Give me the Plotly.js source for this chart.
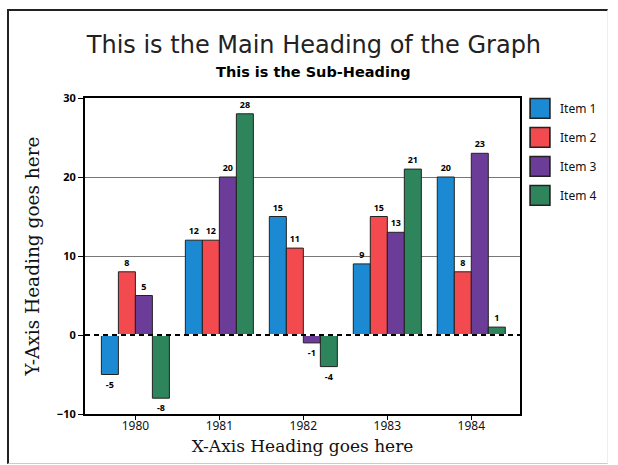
<!DOCTYPE html>
<html>
<head>
<meta charset="utf-8">
<script src="https://cdn.plot.ly/plotly-3.0.1.min.js"></script>
<style>
  html, body { margin: 0; padding: 0; background: #fff; }
  #frame { position: absolute; left: 7px; top: 9px; width: 598px; height: 452px;
           border-left: 2px solid #222; border-top: 2px solid #222;
           border-bottom: 1px solid #ccc; border-right: 1px solid #eee; pointer-events: none; }
  #chart { position: absolute; left: 0; top: 0; width: 618px; height: 465px; }
</style>
</head>
<body>
<div id="chart"></div>
<div id="frame"></div>
<script>
const categories = ["1980", "1981", "1982", "1983", "1984"];
const seriesNames = ["Item 1", "Item 2", "Item 3", "Item 4"];
const item1 = [-5, 12, 15, 9, 20];
const item2 = [8, 12, 11, 15, 8];
const item3 = [5, 20, -1, 13, 23];
const item4 = [-8, 28, -4, 21, 1];
const seriesValues = [item1, item2, item3, item4];
const colors = ["#1b8ad2", "#f24a4e", "#6b3d98", "#2e855c"];
const yTicks = [-10, 0, 10, 20, 30];
const mainTitle = "This is the Main Heading of the Graph";
const subTitle = "This is the Sub-Heading";

const traces = seriesValues.map((vals, i) => ({
  type: "bar",
  name: seriesNames[i],
  x: categories,
  y: vals,
  legendgroup: "g" + i,
  marker: { color: colors[i], line: { color: "#222", width: 1 } },
  text: vals.map(v => String(v)),
  texttemplate: "%{text}",
  textposition: "outside",
  textfont: { family: "Noto Sans", size: 9, color: "#000", weight: "bold" },
  cliponaxis: false,
  hoverinfo: "x+y+name"
}));

const layout = {
  width: 618, height: 465,
  paper_bgcolor: "rgba(0,0,0,0)",
  plot_bgcolor: "#fff",
  margin: { l: 85, r: 98, t: 98, b: 51 },
  barmode: "group",
  bargap: 0.19,
  bargroupgap: 0,
  showlegend: true,
  title: {
    text: mainTitle,
    font: { family: "DejaVu Sans", size: 24, color: "#222" },
    x: 0.508, xanchor: "center", xref: "container",
    y: 0.905, yanchor: "middle", yref: "container"
  },
  annotations: [
    { text: "<b>" + subTitle + "</b>", xref: "paper", yref: "paper",
      x: 0.525, y: 1.082, xanchor: "center", yanchor: "middle", showarrow: false,
      font: { family: "DejaVu Sans", size: 14.5, color: "#000" } }
  ],
  xaxis: {
    type: "category",
    range: [-0.6, 4.58],
    showline: true, linecolor: "#000", linewidth: 2, mirror: true,
    ticks: "outside", ticklen: 4, tickcolor: "#000",
    ticklabelstandoff: -4,
    tickfont: { family: "Noto Sans", size: 12, color: "#111" },
    showgrid: false,
    title: { text: "X-Axis Heading goes here", font: { family: "DejaVu Serif", size: 17, color: "#111" }, standoff: 7 }
  },
  yaxis: {
    range: [-10, 30],
    tickvals: yTicks,
    ticktext: yTicks.map(v => v < 0 ? "\u2212" + Math.abs(v) : String(v)),
    showline: true, linecolor: "#000", linewidth: 2, mirror: true,
    ticks: "outside", ticklen: 5, tickcolor: "#000",
    tickfont: { family: "Noto Sans", size: 11, color: "#000", weight: "bold" },
    showgrid: true, gridcolor: "#777", gridwidth: 1,
    zeroline: false,
    title: { text: "Y-Axis Heading goes here", font: { family: "DejaVu Serif", size: 18.5, color: "#111" }, standoff: 12 }
  },
  legend: {
    x: 1.0, xanchor: "left", y: 1.013, yanchor: "top",
    font: { family: "Noto Sans", size: 12, color: "#111" },
    tracegroupgap: 10,
    traceorder: "grouped",
    bgcolor: "rgba(0,0,0,0)"
  },
  shapes: [
    { type: "line", xref: "paper", yref: "y", x0: 0, x1: 1, y0: 0, y1: 0,
      line: { color: "#fff", width: 2 }, layer: "above" },
    { type: "line", xref: "paper", yref: "y", x0: 0, x1: 1, y0: 0, y1: 0,
      line: { color: "#000", width: 2, dash: "5px,4px" }, layer: "above" }
  ]
};

const gd = document.getElementById("chart");
function enlargeSwatches() {
  gd.querySelectorAll(".legend .legendpoints path").forEach(p => {
    if (!p.getAttribute("data-scaled")) {
      const t = p.getAttribute("transform") || "";
      p.setAttribute("transform", t + " scale(1.65)");
      p.setAttribute("data-scaled", "1");
    }
  });
}
Plotly.newPlot(gd, traces, layout, { displayModeBar: false, staticPlot: true }).then(() => {
  enlargeSwatches();
  gd.on("plotly_afterplot", enlargeSwatches);
});
</script>
</body>
</html>
